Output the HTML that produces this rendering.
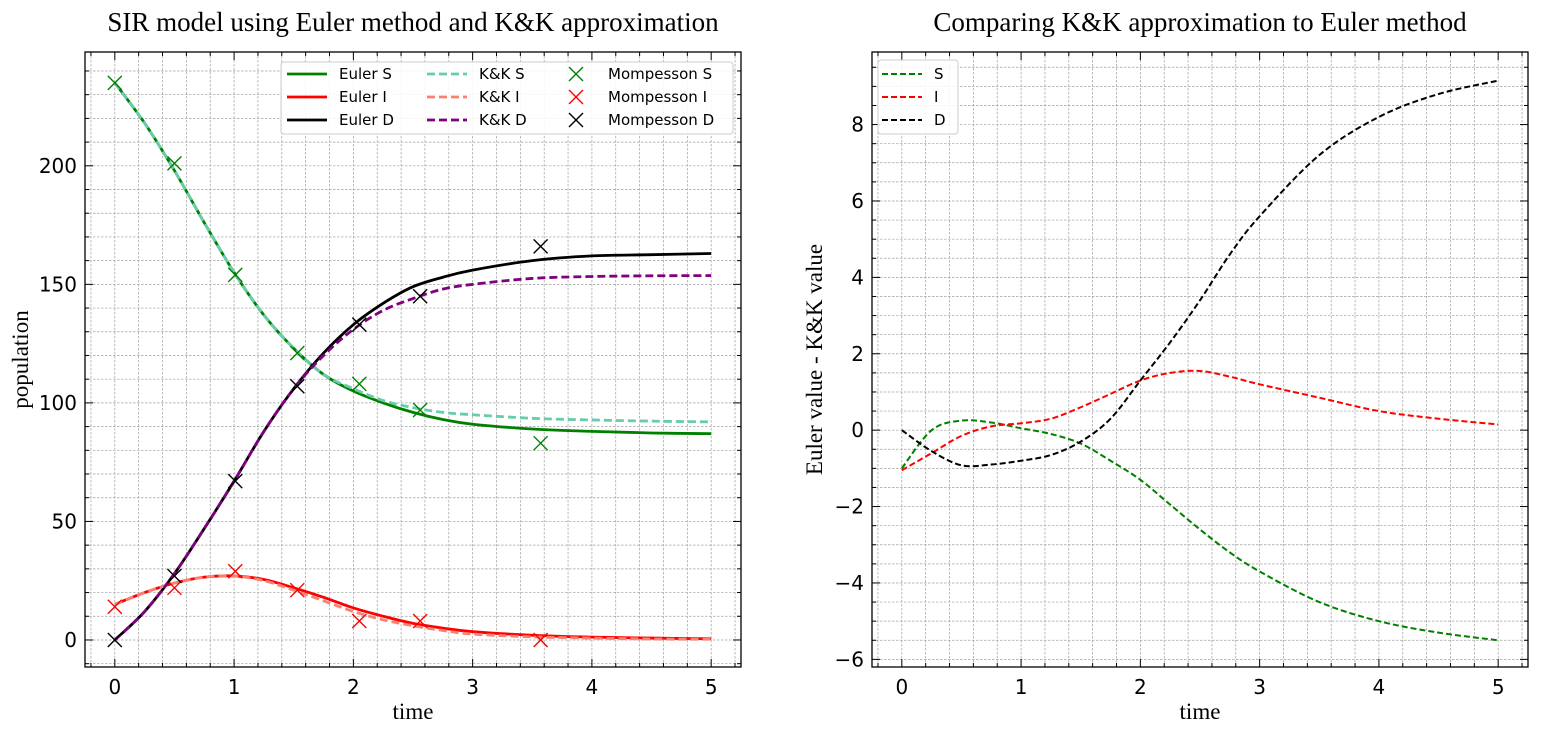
<!DOCTYPE html>
<html><head><meta charset="utf-8"><style>
body{margin:0;background:#fff;}
svg{display:block;font-family:"DejaVu Sans","Liberation Sans",sans-serif;}
.ser{font-family:"Liberation Serif",serif;}
</style></head><body>
<svg id="c" width="1553" height="733"></svg>
<script>
const T=[0,0.25,0.5,0.75,1,1.25,1.5,1.75,2,2.25,2.5,2.75,3,3.5,4,4.5,5];
const eulerS=[235,218,198,176,155,137,123,112,105,100,96,93,91,89,88,87.3,87];
const eulerI=[15,20,24,26.5,27,25.5,22,18,13.5,10,7,5,3.5,2,1.2,0.8,0.5];
const eulerD=[0,12,28,47,67,88,106,121,133,142,149,153,156,160,162,162.5,163];
const kkS=[235,218,198,176,155,137,123,112,106,101,98,96,95,93.5,92.8,92.3,92];
const kkI=[15,20,24,26.5,27,25,21,16.5,12,8.5,6,4,2.5,1.3,0.8,0.4,0.3];
const kkD=[0,12,28,47,67,88,106,120,131,139,144,148,150,152.5,153.3,153.6,153.7];
const mT=[0,0.5,1.01,1.53,2.05,2.56,3.57];
const mS=[235,201,154,121,108,97,83];
const mI=[14,22,29,21,8,8,0];
const mD=[0,27,67,107,133,145,166];
const dS=[-1,0,0.25,0.2,0.05,-0.1,-0.35,-0.8,-1.3,-1.95,-2.6,-3.2,-3.7,-4.5,-5.0,-5.3,-5.5];
const dI=[-1.05,-0.6,-0.15,0.1,0.18,0.3,0.6,0.95,1.3,1.5,1.55,1.4,1.2,0.85,0.5,0.3,0.15];
const dD=[0,-0.55,-0.92,-0.9,-0.8,-0.65,-0.3,0.3,1.3,2.3,3.4,4.6,5.6,7.2,8.2,8.8,9.15];
const xTicks=[0,1,2,3,4,5];
const yTicksL=[0,50,100,150,200];
const yTicksR=[-6,-4,-2,0,2,4,6,8];

const svg=document.getElementById('c');const NS='http://www.w3.org/2000/svg';
function el(t,a,p){const e=document.createElementNS(NS,t);for(const k in a)e.setAttribute(k,a[k]);(p||svg).appendChild(e);return e;}
function smooth(pts){let d=`M${pts[0][0]},${pts[0][1]}`;for(let i=0;i<pts.length-1;i++){const p0=pts[i-1]||pts[i],p1=pts[i],p2=pts[i+1],p3=pts[i+2]||p2;d+=`C${p1[0]+(p2[0]-p0[0])/6},${p1[1]+(p2[1]-p0[1])/6} ${p2[0]-(p3[0]-p1[0])/6},${p2[1]-(p3[1]-p1[1])/6} ${p2[0]},${p2[1]}`;}return d;}
function panel(o){
 const g=el('g',{});
 const X=v=>o.x0+(v-o.xmin)/(o.xmax-o.xmin)*(o.x1-o.x0);
 const Y=v=>o.y1-(v-o.ymin)/(o.ymax-o.ymin)*(o.y1-o.y0);
 for(let v=-0.2;v<=5.21;v+=0.2){const x=X(v);if(x<o.x0||x>o.x1)continue;el('line',{x1:x,x2:x,y1:o.y0,y2:o.y1,stroke:'#a0a0a0','stroke-width':0.7,'stroke-dasharray':'2.5,1.5'},g);}
 for(let v=Math.ceil(o.ymin/o.ym)*o.ym;v<=o.ymax;v+=o.ym){const y=Y(v);el('line',{x1:o.x0,x2:o.x1,y1:y,y2:y,stroke:'#a0a0a0','stroke-width':0.7,'stroke-dasharray':'2.5,1.5'},g);}
 for(let v=-0.2;v<=5.21;v+=0.2){const x=X(v);if(x<o.x0||x>o.x1)continue;const maj=Math.abs(v-Math.round(v))<1e-6;const L=maj?8:4;
  el('line',{x1:x,x2:x,y1:o.y1,y2:o.y1-L,stroke:'#000'},g);el('line',{x1:x,x2:x,y1:o.y0,y2:o.y0+L,stroke:'#000'},g);}
 for(let v=Math.ceil(o.ymin/o.ym)*o.ym;v<=o.ymax;v+=o.ym){const y=Y(v);const maj=Math.abs(v/o.yM-Math.round(v/o.yM))<1e-6;const L=maj?8:4;
  el('line',{x1:o.x0,x2:o.x0+L,y1:y,y2:y,stroke:'#000'},g);el('line',{x1:o.x1,x2:o.x1-L,y1:y,y2:y,stroke:'#000'},g);}
 xTicks.forEach(v=>{const t=el('text',{x:X(v),y:o.y1+27,'text-anchor':'middle','font-size':20},g);t.textContent=v;});
 o.yt.forEach(v=>{const t=el('text',{x:o.x0-8,y:Y(v)+7,'text-anchor':'end','font-size':20},g);t.textContent=(v<0?'\u2212'+(-v):v);});
 el('rect',{x:o.x0,y:o.y0,width:o.x1-o.x0,height:o.y1-o.y0,fill:'none',stroke:'#000','stroke-width':1.3},g);
 let t=el('text',{x:(o.x0+o.x1)/2,y:31,'text-anchor':'middle','font-size':27,class:'ser'},g);t.textContent=o.title;
 t=el('text',{x:(o.x0+o.x1)/2,y:719,'text-anchor':'middle','font-size':23,class:'ser'},g);t.textContent='time';
 t=el('text',{x:0,y:0,'text-anchor':'middle','font-size':23,class:'ser',transform:`translate(${o.yl},${(o.y0+o.y1)/2}) rotate(-90)`},g);t.textContent=o.ylabel;
 return {g,X,Y};
}
const L=panel({name:'left-panel',x0:85,x1:741,y0:52,y1:667,xmin:-0.25,xmax:5.25,ymin:-11.4,ymax:248,ym:10,yM:50,yt:yTicksL,title:'SIR model using Euler method and K&K approximation',ylabel:'population',yl:28});
const R=panel({name:'right-panel',x0:872,x1:1528,y0:52,y1:667,xmin:-0.25,xmax:5.25,ymin:-6.2,ymax:9.9,ym:0.5,yM:2,yt:yTicksR,title:'Comparing K&K approximation to Euler method',ylabel:'Euler value - K&K value',yl:822});
function line(P,arr,col,w,dash,name){const p=el('path',{d:smooth(T.map((t,i)=>[P.X(t),P.Y(arr[i])])),fill:'none',stroke:col,'stroke-width':w,'stroke-dasharray':dash||'none'},P.g);}
line(L,eulerS,'#008000',2.8,null,'euler-s-line');
line(L,eulerI,'#ff0000',2.8,null,'euler-i-line');
line(L,eulerD,'#000',2.8,null,'euler-d-line');
line(L,kkS,'#66cdaa',2.8,'8,4','kk-s-line');
line(L,kkI,'#fa8072',2.8,'8,4','kk-i-line');
line(L,kkD,'#800080',2.8,'8,4','kk-d-line');
function cross(g,x,y,c){el('path',{d:`M${x-7},${y-7}L${x+7},${y+7}M${x-7},${y+7}L${x+7},${y-7}`,stroke:c,'stroke-width':1.4},g);}
[[mS,'#008000','mompesson-s'],[mI,'#ff0000','mompesson-i'],[mD,'#000','mompesson-d']].forEach(([a,c,n])=>{const g=el('g',{},L.g);mT.forEach((t,i)=>cross(g,L.X(t),L.Y(a[i]),c));});
line(R,dS,'#008000',2,'6,3','diff-s-line');
line(R,dI,'#ff0000',2,'6,3','diff-i-line');
line(R,dD,'#000',2,'6,3','diff-d-line');
function legend(x,y,w,h,items,name,p){const g=el('g',{},p);
 el('rect',{x,y,width:w,height:h,fill:'#fff','fill-opacity':0.85,stroke:'#ccc',rx:3},g);
 items.forEach(it=>{const[lx,ly,lab,col,kind]=it;
  if(kind==='x')cross(g,lx+20,ly,col);else el('line',{x1:lx,x2:lx+40,y1:ly,y2:ly,stroke:col,'stroke-width':kind==='d2'?2:2.8,'stroke-dasharray':kind==='d'?'8,4':(kind==='d2'?'6,3':'none')},g);
  const t=el('text',{x:lx+52,y:ly+5,'font-size':15},g);t.textContent=lab;});}
legend(281,62,452,72,[[287,74,'Euler S','#008000','s'],[287,97,'Euler I','#ff0000','s'],[287,120,'Euler D','#000','s'],
[427,74,'K&K S','#66cdaa','d'],[427,97,'K&K I','#fa8072','d'],[427,120,'K&K D','#800080','d'],
[556,74,'Mompesson S','#008000','x'],[556,97,'Mompesson I','#ff0000','x'],[556,120,'Mompesson D','#000','x']],'left-legend',L.g);
legend(878,60,80,74,[[882,74,'S','#008000','d2'],[882,97,'I','#ff0000','d2'],[882,120,'D','#000','d2']],'right-legend',R.g);
</script>
</body></html>
